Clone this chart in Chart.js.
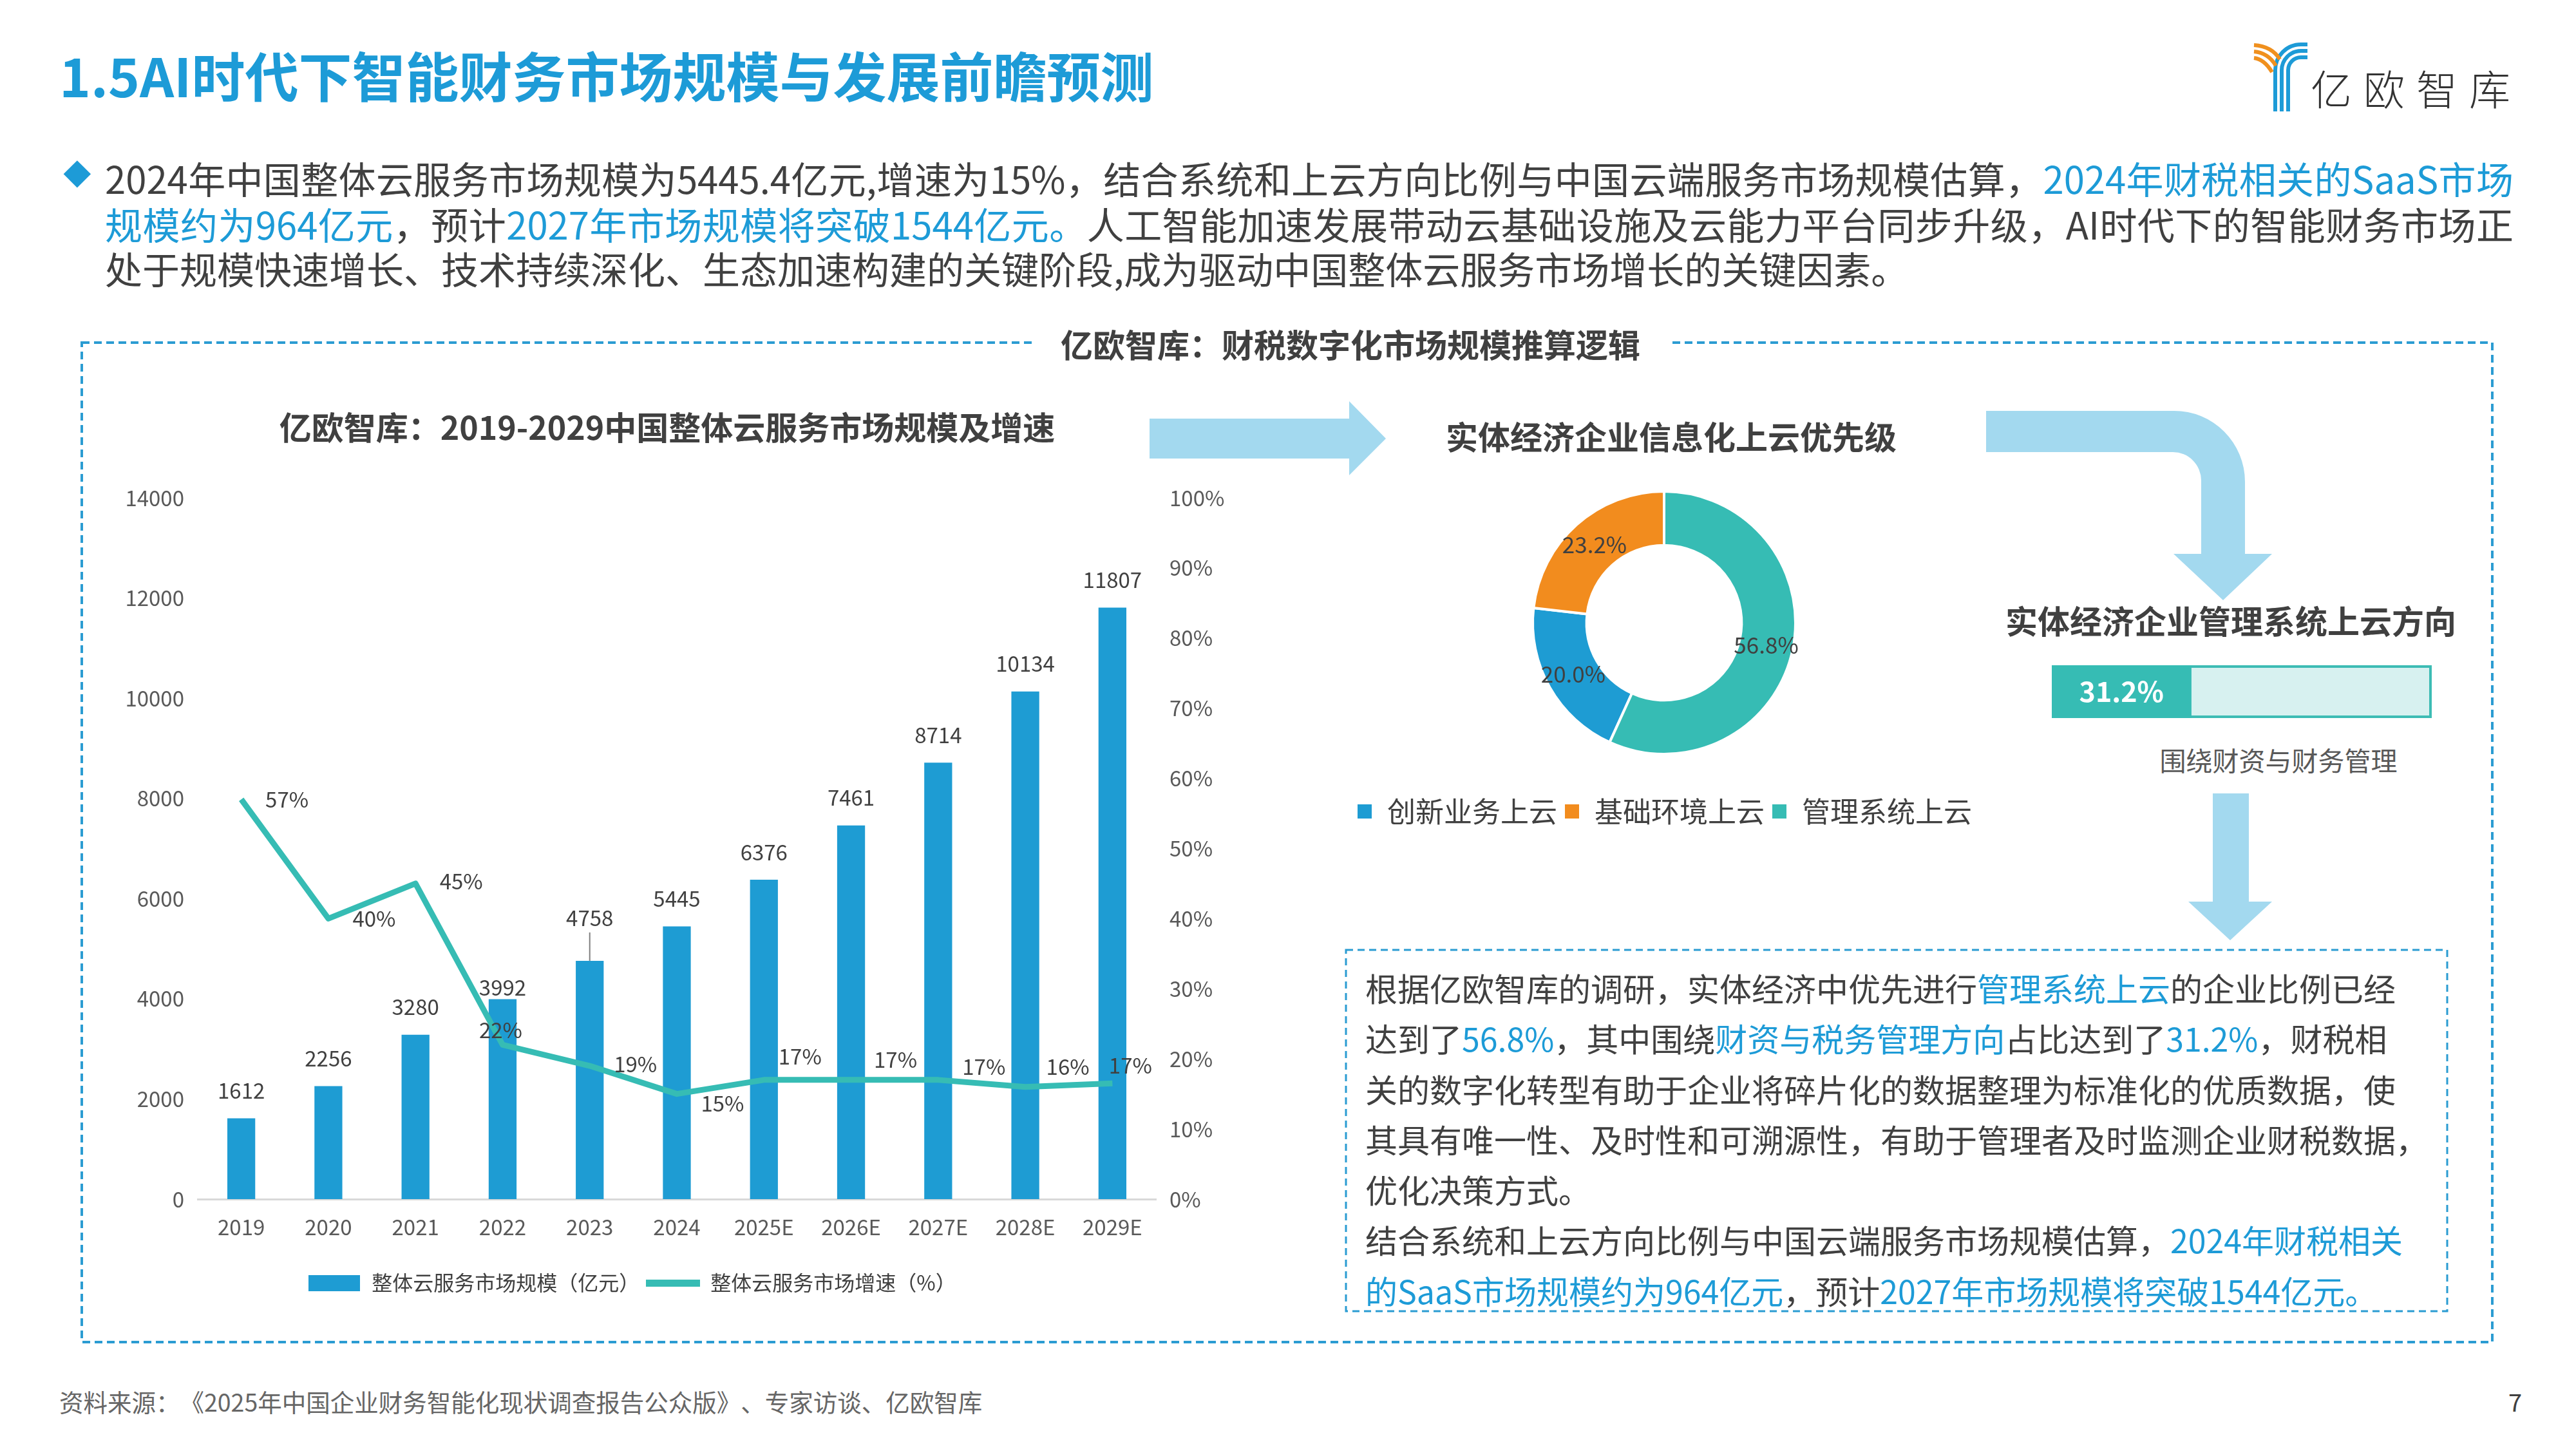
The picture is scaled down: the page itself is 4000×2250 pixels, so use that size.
<!DOCTYPE html>
<html>
<head>
<meta charset="utf-8">
<script src="https://cdn.jsdelivr.net/npm/chart.js@4.4.1/dist/chart.umd.min.js"></script>
<style>
html, body { margin: 0; padding: 0; background: #fff; }
body { width: 4000px; height: 2250px; position: relative; overflow: hidden;
       font-family: "Noto Sans CJK SC", "Noto Sans", sans-serif; color: #404040;
       text-spacing-trim: space-all; }
.t { position: absolute; white-space: nowrap; }
.hl { color: #1d9bd7; }
.bold { font-weight: bold; }
.center { transform: translateX(-50%); }
canvas { position: absolute; }
</style>
</head>
<body>

<!-- arrows, dashed frames and logo mark -->
<svg width="4000" height="2250" style="position:absolute;left:0;top:0">
  <rect x="127" y="532" width="3743" height="1552" fill="none" stroke="#2b9cd2" stroke-width="4" stroke-dasharray="12 7"/>
  <rect x="2090" y="1475" width="1710" height="561" fill="none" stroke="#2b9cd2" stroke-width="3" stroke-dasharray="11 7"/>
  <path d="M1785,650 H2095 V623 L2152,681 L2095,738 V712 H1785 Z" fill="#a3d9ef"/>
  <path d="M3084,638 H3376 A110,110 0 0 1 3486,748 V860 H3528 L3452,932 L3375,860 H3418 V746 A44,44 0 0 0 3374,702 H3084 Z" fill="#a3d9ef"/>
  <path d="M3436,1232 H3492 V1400 H3528 L3463,1460 L3398,1400 H3436 Z" fill="#a3d9ef"/>
  <g fill="none" stroke="#1d9bd7" stroke-width="6">
    <path d="M3533,173 V109 A40,40 0 0 1 3573,69 H3583"/>
    <path d="M3543,173 V109 A30,30 0 0 1 3573,79 H3583"/>
    <path d="M3553,173 V109 A20,20 0 0 1 3573,89 H3583"/>
  </g>
  <g fill="none" stroke="#f0901e" stroke-width="6">
    <path d="M3500,70 Q3528,72 3540,92"/>
    <path d="M3500,80 Q3522,82 3534,102"/>
    <path d="M3500,90 Q3516,92 3528,112"/>
  </g>
  <rect x="100" y="255" width="30" height="30" fill="#1d9bd7" transform="rotate(45 117 276)"/>
</svg>

<div class="t bold" style="left:92px;top:65px;font-size:83px;line-height:100px;color:#1d9bd7">1.5AI时代下智能财务市场规模与发展前瞻预测</div>
<div class="t" style="left:3588px;top:95px;font-size:64px;line-height:80px;font-weight:300;letter-spacing:18px;color:#333">亿欧智库</div>

<div class="t" style="left:163px;top:241px;width:3740px;font-size:58px;line-height:70px;text-align:justify;text-align-last:justify">2024年中国整体云服务市场规模为5445.4亿元,增速为15%，结合系统和上云方向比例与中国云端服务市场规模估算，<span class="hl">2024年财税相关的SaaS市场</span></div>
<div class="t" style="left:163px;top:312px;width:3740px;font-size:58px;line-height:70px;text-align:justify;text-align-last:justify"><span class="hl">规模约为964亿元</span>，预计<span class="hl">2027年市场规模将突破1544亿元。</span>人工智能加速发展带动云基础设施及云能力平台同步升级，AI时代下的智能财务市场正</div>
<div class="t" style="left:163px;top:381px;font-size:58px;line-height:70px">处于规模快速增长、技术持续深化、生态加速构建的关键阶段,成为驱动中国整体云服务市场增长的关键因素。</div>

<div class="t bold center" style="left:2097px;top:503px;font-size:50px;line-height:60px;background:#fff;padding:0 45px">亿欧智库：财税数字化市场规模推算逻辑</div>
<div class="t bold center" style="left:1036px;top:631px;font-size:50px;line-height:60px">亿欧智库：2019-2029中国整体云服务市场规模及增速</div>
<div class="t bold center" style="left:2595px;top:646px;font-size:50px;line-height:60px">实体经济企业信息化上云优先级</div>
<div class="t bold center" style="left:3464px;top:932px;font-size:50px;line-height:60px">实体经济企业管理系统上云方向</div>
<div id="dirLabel" class="t center" style="left:3538px;top:1154px;font-size:41px;line-height:50px;color:#595959"></div>

<div style="position:absolute;left:3186px;top:1033px;width:590px;height:82px;box-sizing:border-box;background:#d7f1f0;border:4px solid #3dbcb4"></div>

<div class="t" style="left:2120px;top:1494px;font-size:50px;line-height:78.3px">根据亿欧智库的调研，实体经济中优先进行<span class="hl">管理系统上云</span>的企业比例已经<br>达到了<span class="hl">56.8%</span>，其中围绕<span class="hl">财资与税务管理方向</span>占比达到了<span class="hl">31.2%</span>，财税相<br>关的数字化转型有助于企业将碎片化的数据整理为标准化的优质数据，使<br>其具有唯一性、及时性和可溯源性，有助于管理者及时监测企业财税数据，<br>优化决策方式。<br>结合系统和上云方向比例与中国云端服务市场规模估算，<span class="hl">2024年财税相关<br>的SaaS市场规模约为964亿元</span>，预计<span class="hl">2027年市场规模将突破1544亿元。</span></div>

<div class="t" style="left:92px;top:2153px;font-size:37.5px;line-height:46px;color:#666">资料来源：《2025年中国企业财务智能化现状调查报告公众版》、专家访谈、亿欧智库</div>
<div class="t" style="left:3895px;top:2153px;font-size:38px;line-height:46px;color:#404040">7</div>

<canvas id="marketChart" width="1858" height="1350" style="left:52px;top:720px"></canvas>
<canvas id="donutChart" width="1200" height="586" style="left:1984px;top:706px"></canvas>
<canvas id="dirChart" width="590" height="82" style="left:3186px;top:1033px"></canvas>

<script>
// 整体云服务市场规模及增速
var years = ['2019', '2020', '2021', '2022', '2023', '2024', '2025E', '2026E', '2027E', '2028E', '2029E'];
var marketSize = [1612, 2256, 3280, 3992, 4758, 5445, 6376, 7461, 8714, 10134, 11807];
var growthRate = [57, 40, 45, 22, 19, 15, 17, 17, 17, 16, 16.5];
var sizeAxisMax = 14000, sizeAxisStep = 2000;
var rateAxisMax = 100, rateAxisStep = 10;

// 上云优先级
var cloudLabels = ['创新业务上云', '基础环境上云', '管理系统上云'];
var cloudShare = [20.0, 23.2, 56.8];

// 管理系统上云方向
var directionLabels = ['围绕财资与财务管理'];
var directionShare = [31.2];

var BLUE = '#1e9cd3', TEAL = '#36bcb4', ORANGE = '#f28c1e', TXT = '#404040';
Chart.defaults.font.family = '"Noto Sans CJK SC", "Noto Sans", sans-serif';
Chart.defaults.color = '#595959';

document.getElementById('dirLabel').textContent = directionLabels[0];

// where each value label sits relative to its mark
var barLift = [43, 43, 43, 18, 66, 43, 43, 43, 43, 43, 43];
var rateOffset = [[71, 0], [71, 0], [71, -3], [-3, -23], [71, -3], [71, 15], [56, -36], [69, -31], [71, -20], [66, -31], [28, -28]];

function makeIcon(w, h, color) {
    var c = document.createElement('canvas');
    c.width = w; c.height = h;
    var g = c.getContext('2d');
    g.fillStyle = color;
    g.fillRect(0, 0, w, h);
    return c;
}
var legendIcons = [makeIcon(80, 25, BLUE), makeIcon(84, 11, TEAL)];

var valueLabels = {
    id: 'valueLabels',
    afterDatasetsDraw: function(chart) {
        var ctx = chart.ctx;
        ctx.save();
        ctx.font = '33px "Noto Sans CJK SC"';
        ctx.fillStyle = TXT;
        ctx.textAlign = 'center';
        ctx.textBaseline = 'middle';
        chart.getDatasetMeta(0).data.forEach(function(bar, i) {
            ctx.fillText(marketSize[i], bar.x, bar.y - barLift[i]);
            if (barLift[i] > 50) {
                ctx.strokeStyle = '#7f7f7f';
                ctx.lineWidth = 2;
                ctx.beginPath();
                ctx.moveTo(bar.x, bar.y - barLift[i] + 22);
                ctx.lineTo(bar.x, bar.y);
                ctx.stroke();
            }
        });
        chart.getDatasetMeta(1).data.forEach(function(pt, i) {
            ctx.fillText(Math.round(growthRate[i]) + '%', pt.x + rateOffset[i][0], pt.y + rateOffset[i][1]);
        });
        ctx.restore();
    }
};

new Chart(document.getElementById('marketChart'), {
    data: {
        labels: years,
        datasets: [{
            type: 'bar',
            label: '整体云服务市场规模（亿元）',
            data: marketSize,
            backgroundColor: BLUE,
            barPercentage: 0.32,
            categoryPercentage: 1,
            yAxisID: 'y',
            order: 2
        }, {
            type: 'line',
            label: '整体云服务市场增速（%）',
            data: growthRate,
            borderColor: TEAL,
            backgroundColor: TEAL,
            borderWidth: 9,
            borderJoinStyle: 'round',
            pointRadius: 0,
            tension: 0,
            yAxisID: 'y1',
            order: 1
        }]
    },
    options: {
        responsive: false,
        animation: false,
        devicePixelRatio: 1,
        layout: { padding: { top: 53, bottom: 52, left: 0, right: 0 } },
        plugins: {
            tooltip: { enabled: false },
            legend: {
                position: 'bottom',
                labels: {
                    usePointStyle: true,
                    pointStyleWidth: 84,
                    padding: 10,
                    color: TXT,
                    font: { size: 32 },
                    generateLabels: function(chart) {
                        return chart.data.datasets.map(function(ds, i) {
                            return { text: ds.label, pointStyle: legendIcons[i], datasetIndex: i,
                                     fontColor: TXT, lineWidth: 0, fillStyle: ds.backgroundColor, strokeStyle: 'rgba(0,0,0,0)' };
                        });
                    }
                }
            }
        },
        scales: {
            x: {
                offset: true,
                grid: { display: false, drawTicks: false },
                border: { display: true, color: '#d9d9d9', width: 3 },
                ticks: { font: { size: 33 }, color: '#595959', padding: 24 },
                afterFit: function(s) { s.height = 104; }
            },
            y: {
                position: 'left',
                min: 0, max: sizeAxisMax,
                grid: { display: false, drawTicks: false },
                border: { display: false },
                ticks: { stepSize: sizeAxisStep, font: { size: 33 }, color: '#595959', padding: 21,
                         callback: function(v) { return String(v); } },
                afterFit: function(s) { s.width = 255; }
            },
            y1: {
                position: 'right',
                min: 0, max: rateAxisMax,
                grid: { display: false, drawTicks: false },
                border: { display: false },
                ticks: { stepSize: rateAxisStep, font: { size: 33 }, color: '#595959', padding: 21,
                         callback: function(v) { return v + '%'; } },
                afterFit: function(s) { s.width = 115; }
            }
        }
    },
    plugins: [valueLabels]
});

var arcLabels = {
    id: 'arcLabels',
    afterDatasetsDraw: function(chart) {
        var ctx = chart.ctx;
        ctx.save();
        ctx.font = '35px "Noto Sans CJK SC"';
        ctx.fillStyle = TXT;
        ctx.textAlign = 'center';
        ctx.textBaseline = 'middle';
        chart.getDatasetMeta(0).data.forEach(function(arc, i) {
            var p = arc.tooltipPosition();
            ctx.fillText(cloudShare[i].toFixed(1) + '%', p.x, p.y);
        });
        ctx.restore();
    }
};

new Chart(document.getElementById('donutChart'), {
    type: 'doughnut',
    data: {
        labels: cloudLabels,
        datasets: [{
            data: cloudShare,
            backgroundColor: [BLUE, ORANGE, TEAL],
            borderColor: '#ffffff',
            borderWidth: 4
        }]
    },
    options: {
        responsive: false,
        animation: false,
        devicePixelRatio: 1,
        radius: 204,
        cutout: '59%',
        rotation: -155.52,
        plugins: {
            tooltip: { enabled: false },
            legend: {
                position: 'bottom',
                labels: { boxWidth: 26, boxHeight: 26, padding: 10, color: TXT, font: { size: 44 } }
            }
        }
    },
    plugins: [arcLabels]
});

var shareLabel = {
    id: 'shareLabel',
    afterDatasetsDraw: function(chart) {
        var ctx = chart.ctx;
        var bar = chart.getDatasetMeta(0).data[0];
        ctx.save();
        ctx.font = 'bold 43px "Noto Sans CJK SC"';
        ctx.fillStyle = '#ffffff';
        ctx.textAlign = 'center';
        ctx.textBaseline = 'middle';
        ctx.fillText(directionShare[0].toFixed(1) + '%', (bar.base + bar.x) / 2, bar.y);
        ctx.restore();
    }
};

new Chart(document.getElementById('dirChart'), {
    type: 'bar',
    data: {
        labels: directionLabels,
        datasets: [{ data: directionShare, backgroundColor: TEAL, barPercentage: 1, categoryPercentage: 1 }]
    },
    options: {
        indexAxis: 'y',
        responsive: false,
        animation: false,
        devicePixelRatio: 1,
        layout: { padding: 0 },
        plugins: { legend: { display: false }, tooltip: { enabled: false } },
        scales: {
            x: { display: false, min: 0, max: 85 },
            y: { display: false }
        }
    },
    plugins: [shareLabel]
});
</script>
</body>
</html>
